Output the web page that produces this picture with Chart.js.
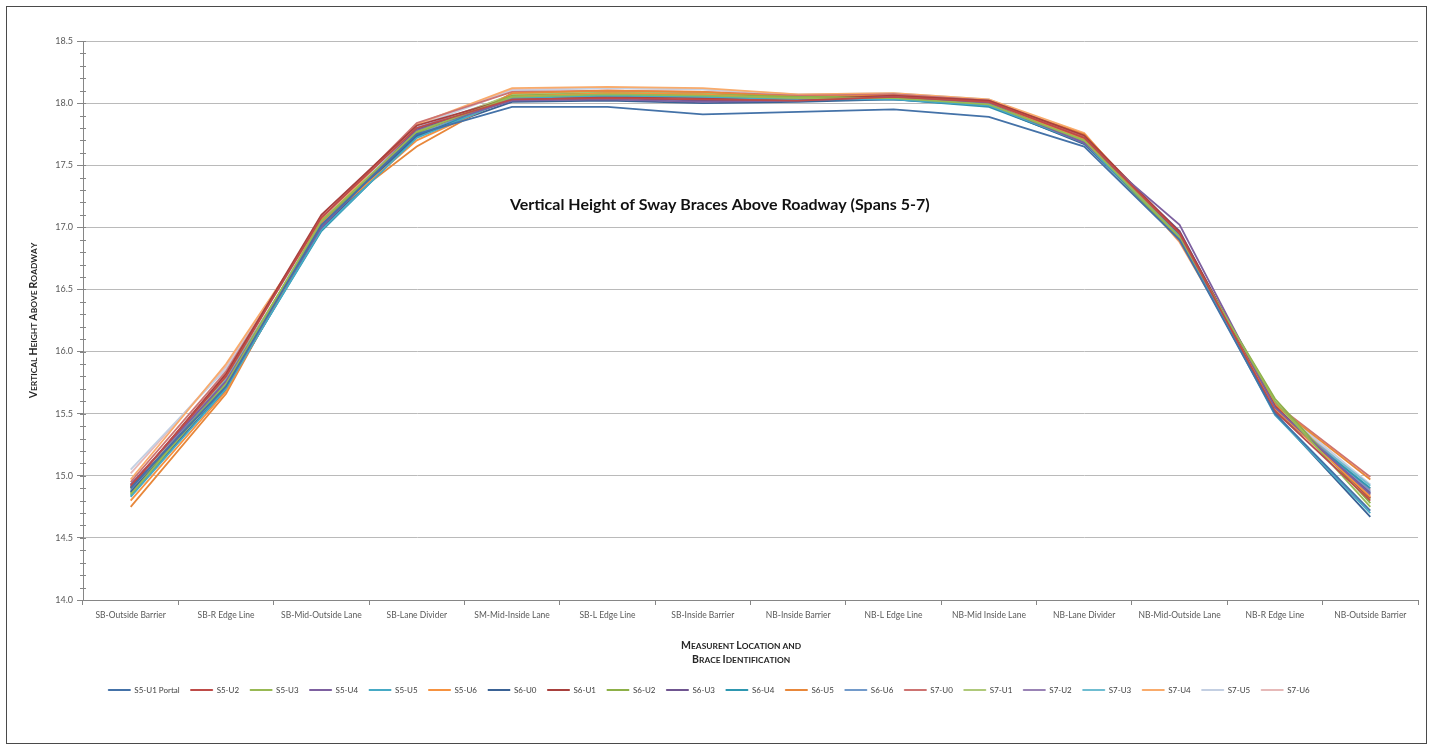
<!DOCTYPE html>
<html>
<head>
<meta charset="utf-8">
<script src="https://cdn.jsdelivr.net/npm/chart.js@4/dist/chart.umd.min.js"></script>
<style>
  html, body { margin: 0; padding: 0; background: #fff; }
  #wrap { position: relative; width: 1429px; height: 745px; }
</style>
</head>
<body>
<div id="wrap"><canvas id="c" width="1429" height="745"></canvas></div>
<script>
// Measurement locations across the deck
const locations = [
  'SB-Outside Barrier', 'SB-R Edge Line', 'SB-Mid-Outside Lane', 'SB-Lane Divider',
  'SM-Mid-Inside Lane', 'SB-L Edge Line', 'SB-Inside Barrier', 'NB-Inside Barrier',
  'NB-L Edge Line', 'NB-Mid Inside Lane', 'NB-Lane Divider', 'NB-Mid-Outside Lane',
  'NB-R Edge Line', 'NB-Outside Barrier'
];

// Brace identifiers (span / panel point)
const braces = [
  'S5-U1 Portal', 'S5-U2', 'S5-U3', 'S5-U4', 'S5-U5', 'S5-U6',
  'S6-U0', 'S6-U1', 'S6-U2', 'S6-U3', 'S6-U4', 'S6-U5', 'S6-U6',
  'S7-U0', 'S7-U1', 'S7-U2', 'S7-U3', 'S7-U4', 'S7-U5', 'S7-U6'
];

// Vertical clearance (ft) per brace, one value per location
const s5u1 = [14.90, 15.72, 17.02, 17.75, 17.97, 17.97, 17.91, 17.93, 17.95, 17.89, 17.65, 16.90, 15.50, 14.72];
const s5u2 = [14.92, 15.80, 17.08, 17.80, 18.03, 18.04, 18.03, 18.02, 18.05, 18.01, 17.72, 16.95, 15.52, 14.80];
const s5u3 = [14.85, 15.74, 17.05, 17.77, 18.05, 18.07, 18.06, 18.04, 18.04, 17.99, 17.70, 16.92, 15.60, 14.75];
const s5u4 = [14.93, 15.76, 17.00, 17.78, 18.02, 18.03, 18.01, 18.02, 18.05, 18.00, 17.68, 17.02, 15.55, 14.85];
const s5u5 = [14.83, 15.70, 16.98, 17.72, 18.04, 18.06, 18.05, 18.03, 18.03, 17.98, 17.68, 16.93, 15.49, 14.70];
const s5u6 = [14.80, 15.68, 17.03, 17.70, 18.05, 18.08, 18.07, 18.03, 18.04, 18.00, 17.71, 16.92, 15.54, 14.83];
const s6u0 = [14.87, 15.69, 17.00, 17.74, 18.01, 18.02, 18.00, 18.01, 18.03, 17.98, 17.67, 16.94, 15.50, 14.67];
const s6u1 = [14.91, 15.82, 17.10, 17.82, 18.04, 18.05, 18.04, 18.03, 18.06, 18.02, 17.74, 16.96, 15.56, 14.82];
const s6u2 = [14.86, 15.75, 17.04, 17.76, 18.06, 18.08, 18.07, 18.05, 18.05, 17.99, 17.69, 16.90, 15.62, 14.78];
const s6u3 = [14.90, 15.73, 16.99, 17.79, 18.03, 18.04, 18.02, 18.02, 18.04, 18.01, 17.70, 16.97, 15.53, 14.86];
const s6u4 = [14.84, 15.71, 16.97, 17.73, 18.05, 18.07, 18.06, 18.03, 18.03, 17.97, 17.68, 16.91, 15.51, 14.90];
const s6u5 = [14.75, 15.66, 17.06, 17.65, 18.08, 18.10, 18.09, 18.05, 18.06, 18.01, 17.75, 16.93, 15.57, 14.97];
const s6u6 = [14.88, 15.77, 17.01, 17.75, 18.04, 18.06, 18.04, 18.03, 18.04, 17.99, 17.69, 16.92, 15.54, 14.87];
const s7u0 = [14.95, 15.84, 17.07, 17.84, 18.09, 18.10, 18.09, 18.06, 18.07, 18.02, 17.73, 16.89, 15.58, 14.99];
const s7u1 = [14.89, 15.78, 17.02, 17.78, 18.07, 18.09, 18.08, 18.05, 18.06, 18.00, 17.72, 16.91, 15.59, 14.81];
const s7u2 = [14.92, 15.79, 17.00, 17.80, 18.06, 18.08, 18.06, 18.05, 18.07, 18.02, 17.71, 16.95, 15.55, 14.88];
const s7u3 = [14.87, 15.75, 16.98, 17.76, 18.07, 18.09, 18.08, 18.04, 18.05, 17.99, 17.70, 16.90, 15.53, 14.92];
const s7u4 = [14.97, 15.90, 17.04, 17.83, 18.12, 18.13, 18.12, 18.07, 18.08, 18.03, 17.76, 16.88, 15.56, 14.84];
const s7u5 = [15.05, 15.86, 17.03, 17.81, 18.10, 18.12, 18.11, 18.07, 18.08, 18.03, 17.74, 16.89, 15.57, 14.93];
const s7u6 = [15.02, 15.88, 17.05, 17.82, 18.11, 18.12, 18.11, 18.06, 18.07, 18.02, 17.73, 16.90, 15.58, 14.89];

const seriesValues = [s5u1, s5u2, s5u3, s5u4, s5u5, s5u6, s6u0, s6u1, s6u2, s6u3,
                      s6u4, s6u5, s6u6, s7u0, s7u1, s7u2, s7u3, s7u4, s7u5, s7u6];

const seriesColors = [
  '#4472A8', '#BE4B48', '#98B954', '#7D60A0', '#46AAC5', '#F69240',
  '#3A6295', '#A8403D', '#8DB048', '#6F5590', '#2E97B0', '#E8873A',
  '#729ACA', '#CD7371', '#AFC97A', '#9983B5', '#6FBDD1', '#F9AB6B',
  '#C3CFE2', '#E6B9B8'
];

// Y axis range and tick labels
const yMin = 14.0, yMax = 18.5, yMinorStep = 0.1;
const yTickLabels = ['14.0', '14.5', '15.0', '15.5', '16.0', '16.5', '17.0', '17.5', '18.0', '18.5'];

const chartTitle = 'Vertical Height of Sway Braces Above Roadway (Spans 5-7)';
const yTitle = 'Vertical Height Above Roadway';
const xTitle = ['Measurent Location and', 'Brace Identification'];

const FONT = 'Lato, "Open Sans", "Liberation Sans", sans-serif';

const datasets = braces.map((name, i) => ({
  label: name,
  data: seriesValues[i],
  borderColor: seriesColors[i],
  backgroundColor: seriesColors[i],
  borderWidth: 1.8,
  pointRadius: 0,
  pointHoverRadius: 0,
  tension: 0,
  fill: false
}));

// Bold small-caps text: capitals full size, lower case as smaller capitals
function smallCapsRuns(text) {
  return Array.from(text).map(ch => {
    const big = ch === ch.toUpperCase() && ch !== ' ';
    return { ch: ch.toUpperCase(), size: big ? 10.5 : 8.4 };
  });
}
function smallCapsWidth(ctx, runs) {
  let w = 0;
  runs.forEach(r => { ctx.font = 'bold ' + r.size + 'px ' + FONT; w += ctx.measureText(r.ch).width; });
  return w;
}
function drawSmallCaps(ctx, text, cx, cy, rotation) {
  const runs = smallCapsRuns(text);
  ctx.save();
  ctx.translate(cx, cy);
  ctx.rotate(rotation);
  ctx.textBaseline = 'alphabetic';
  ctx.textAlign = 'left';
  let x = -smallCapsWidth(ctx, runs) / 2;
  runs.forEach(r => {
    ctx.font = 'bold ' + r.size + 'px ' + FONT;
    ctx.fillText(r.ch, x, 4);
    x += ctx.measureText(r.ch).width;
  });
  ctx.restore();
}

// White page, outer frame, minor y ticks, axis titles and the in-plot title
const decor = {
  id: 'decor',
  beforeDraw(chart) {
    const ctx = chart.ctx;
    ctx.save();
    ctx.fillStyle = '#fff';
    ctx.fillRect(0, 0, chart.width, chart.height);
    ctx.strokeStyle = '#4a4a4a';
    ctx.lineWidth = 1;
    ctx.strokeRect(6.5, 6.5, 1420, 737);
    ctx.restore();
  },
  afterDraw(chart) {
    const ctx = chart.ctx;
    const y = chart.scales.y;
    const area = chart.chartArea;
    ctx.save();
    ctx.strokeStyle = '#868686';
    ctx.lineWidth = 1;
    const n = Math.round((yMax - yMin) / yMinorStep);
    for (let k = 0; k <= n; k++) {
      const v = yMin + k * yMinorStep;
      const py = Math.round(y.getPixelForValue(v)) + 0.5;
      ctx.beginPath();
      ctx.moveTo(area.left - 3, py);
      ctx.lineTo(area.left + 3, py);
      ctx.stroke();
    }

    ctx.fillStyle = '#262626';
    drawSmallCaps(ctx, yTitle, 33, (area.top + area.bottom) / 2, -Math.PI / 2);
    const xc = area.left + (area.right - area.left) * 0.493;
    drawSmallCaps(ctx, xTitle[0], xc, 645, 0);
    drawSmallCaps(ctx, xTitle[1], xc, 659, 0);

    ctx.fillStyle = '#111';
    ctx.font = 'bold 16px ' + FONT;
    ctx.textAlign = 'center';
    ctx.textBaseline = 'middle';
    const tx = area.left + (area.right - area.left) * 0.477;
    const ty = area.top + (area.bottom - area.top) * 0.2934;
    ctx.fillText(chartTitle, tx, ty);
    ctx.restore();
  }
};

new Chart(document.getElementById('c'), {
  type: 'line',
  data: { labels: locations, datasets },
  plugins: [decor],
  options: {
    responsive: false,
    animation: false,
    events: [],
    layout: { padding: { top: 41, right: 11, left: 0, bottom: 41 } },
    plugins: {
      title: { display: false },
      tooltip: { enabled: false },
      legend: {
        position: 'bottom',
        labels: {
          font: { family: FONT, size: 8 },
          color: '#404040',
          boxWidth: 22,
          boxHeight: 1,
          padding: 11,
          generateLabels(chart) {
            const items = Chart.defaults.plugins.legend.labels.generateLabels(chart);
            items.forEach(it => { it.lineWidth = 1; });
            return items;
          }
        }
      }
    },
    scales: {
      x: {
        type: 'category',
        offset: true,
        afterFit(scale) { scale.height = 75; },
        grid: {
          display: true,
          drawOnChartArea: false,
          offset: true,
          tickLength: 5,
          tickColor: '#868686'
        },
        border: { color: '#868686', width: 1 },
        ticks: {
          font: { family: FONT, size: 8.5 },
          color: '#595959',
          padding: 5,
          maxRotation: 0,
          autoSkip: false
        },
        title: { display: false }
      },
      y: {
        min: yMin,
        max: yMax,
        afterFit(scale) { scale.width = 83; },
        afterBuildTicks(scale) {
          scale.ticks = yTickLabels.map(t => ({ value: parseFloat(t) }));
        },
        grid: {
          color: '#bababa',
          lineWidth: 1,
          tickLength: 6,
          tickColor: '#868686'
        },
        border: { color: '#868686', width: 1 },
        ticks: {
          font: { family: FONT, size: 9 },
          color: '#595959',
          padding: 4,
          callback: (v, i) => yTickLabels[i]
        },
        title: { display: false }
      }
    }
  }
});
</script>
</body>
</html>
